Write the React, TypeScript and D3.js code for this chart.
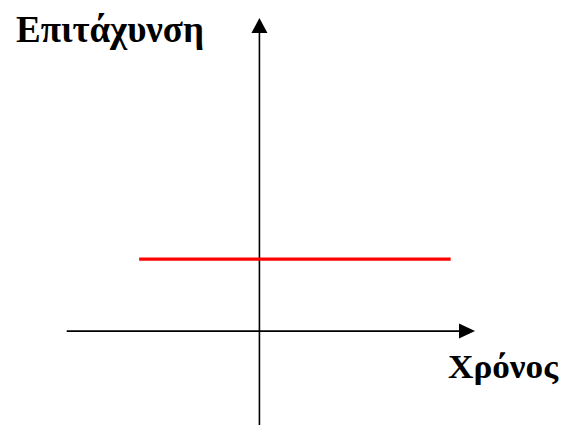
import React from "react";
import * as d3 from "d3";

const timeRange = [-0.894, 1.0];
const accelRange = [-0.3, 1.0];
const accelTimes = [-0.558, 0.887];
const accelValues = [0.23, 0.23];
const yLabel = "Επιτάχυνση";
const xLabel = "Χρόνος";

const W = 569;
const H = 425;

export default function App() {
  const x = d3.scaleLinear().domain(timeRange).range([66.7, 475]);
  const y = d3.scaleLinear().domain(accelRange).range([425, 18]);
  const pts: [number, number][] = accelTimes.map((t, i) => [t, accelValues[i]]);
  const line = d3
    .line<[number, number]>()
    .x((d) => x(d[0]))
    .y((d) => y(d[1]));
  const x0 = x(0);
  const y0 = y(0);
  const xTip = x(timeRange[1]);
  const yTip = y(accelRange[1]);
  return (
    <svg
      width={W}
      height={H}
      style={{ position: "absolute", left: 0, top: 0, background: "#fff" }}
    >
      <line x1={x(timeRange[0])} x2={xTip - 14} y1={y0} y2={y0} stroke="#000" strokeWidth={1.6} />
      <path d={`M${xTip},${y0} L${xTip - 16},${y0 - 7.5} L${xTip - 16},${y0 + 7.5} Z`} fill="#000" />
      <line x1={x0} x2={x0} y1={y(accelRange[0])} y2={yTip + 14} stroke="#000" strokeWidth={1.6} />
      <path d={`M${x0},${yTip} L${x0 - 8},${yTip + 15} L${x0 + 8},${yTip + 15} Z`} fill="#000" />
      <path d={line(pts) || ""} stroke="#ff0000" strokeWidth={3.3} fill="none" />
      <text
        x={16}
        y={42}
        fontFamily="'Liberation Serif', 'Times New Roman', serif"
        fontWeight="bold"
        fontSize={38}
        textLength={188}
        lengthAdjust="spacingAndGlyphs"
      >
        {yLabel}
      </text>
      <text
        x={448}
        y={378}
        fontFamily="'Liberation Serif', 'Times New Roman', serif"
        fontWeight="bold"
        fontSize={33}
        textLength={110}
        lengthAdjust="spacingAndGlyphs"
      >
        {xLabel}
      </text>
    </svg>
  );
}
